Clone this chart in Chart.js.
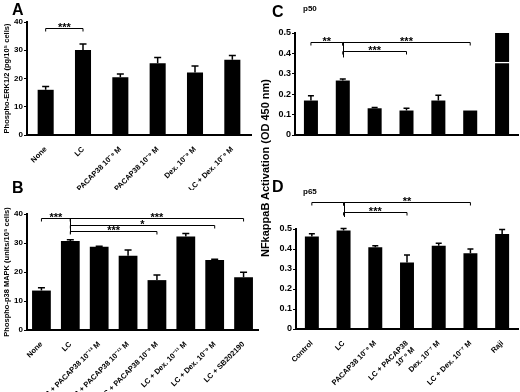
<!DOCTYPE html>
<html><head><meta charset="utf-8">
<script src="https://cdn.jsdelivr.net/npm/chart.js@4.4.1/dist/chart.umd.min.js"></script>
<style>
body{margin:0;background:#fff;}
#wrap{position:relative;width:520px;height:392px;overflow:hidden;background:#fff;font-family:'Liberation Sans',Arial,sans-serif;}
canvas{position:absolute;}
.lbl{position:absolute;font-weight:bold;line-height:1;color:#000;white-space:nowrap;}
</style></head><body>
<div id="wrap">
<canvas id="cA" width="260" height="190" style="left:0;top:0"></canvas>
<canvas id="cB" width="260" height="202" style="left:0;top:190px"></canvas>
<canvas id="cC" width="260" height="190" style="left:260px;top:0"></canvas>
<canvas id="cD" width="260" height="202" style="left:260px;top:190px"></canvas>
<div class="lbl" style="left:12px;top:2px;font-size:16px">A</div>
<div class="lbl" style="left:12px;top:180px;font-size:16px">B</div>
<div class="lbl" style="left:272px;top:4px;font-size:16px">C</div>
<div class="lbl" style="left:272px;top:179px;font-size:16px">D</div>
<div class="lbl" style="left:303px;top:5px;font-size:8px">p50</div>
<div class="lbl" style="left:303px;top:188px;font-size:8px">p65</div>
<div class="lbl" id="sharedTitle" style="left:265px;top:168px;font-size:11px;transform:translate(-50%,-50%) rotate(-90deg)"></div>
</div>
<script>
const FONT = "'Liberation Sans', Arial, sans-serif";
Chart.defaults.font.family = FONT;
Chart.defaults.color = '#000';

// ---------- Panel A: Phospho-ERK1/2 ----------
const labelsA = ['None', 'LC', 'PACAP38 10⁻⁹ M', 'LC + PACAP38 10⁻⁹ M', 'Dex. 10⁻⁹ M', 'LC + Dex. 10⁻⁹ M'];
const valuesA = [16.0, 30.1, 20.4, 25.4, 22.1, 26.6];
const errorsA = [1.2, 2.1, 1.2, 2.0, 2.3, 1.5];
const ticksA = [0, 10, 20, 30, 40];
const titleA = 'Phospho-ERK1/2 (pg/10⁵ cells)';
const bracketsA = [[0, 1, 37.8, '***']];
const stemsA = [];

// ---------- Panel B: Phospho-p38 MAPK ----------
const labelsB = ['None', 'LC', 'LC + PACAP38 10⁻¹³ M', 'LC + PACAP38 10⁻¹¹ M', 'LC + PACAP38 10⁻⁹ M', 'LC + Dex. 10⁻¹¹ M', 'LC + Dex. 10⁻⁹ M', 'LC + SB202190'];
const valuesB = [13.6, 30.7, 28.7, 25.6, 17.2, 32.2, 24.1, 18.2];
const errorsB = [1.0, 0.4, 0.2, 2.0, 1.8, 1.1, 0.3, 1.7];
const ticksB = [0, 10, 20, 30, 40];
const titleB = 'Phospho-p38 MAPK (units/10⁵ cells)';
const bracketsB = [[0, 1, 38.6, '***'], [1, 7, 38.6, '***'], [1, 6, 36.2, '*'], [1, 4, 34.1, '***']];
const stemsB = [[1, 38.6, 33.2]];

// ---------- Panels C/D: NFkappaB activation ----------
const labelsCD = ['Control', 'LC', 'PACAP38 10⁻⁹ M', ['LC + PACAP38', '10⁻⁹ M'], 'Dex. 10⁻⁷ M', 'LC + Dex. 10⁻⁷ M', 'Raji'];
const titleCD = 'NFkappaB Activation (OD 450 nm)';
const valuesC = [0.169, 0.267, 0.131, 0.120, 0.169, 0.120, 0.5];
const errorsC = [0.023, 0.008, 0.004, 0.011, 0.026, 0, 0];
const breakC = 0.355;   // axis-break mark drawn across the Raji bar
const ticksCD = [0, 0.1, 0.2, 0.3, 0.4, 0.5];
const bracketsC = [[0, 1, 0.456, '**'], [1, 5, 0.456, '***'], [1, 3, 0.41, '***']];
const stemsC = [[1, 0.456, 0.38]];

const valuesD = [0.463, 0.493, 0.409, 0.333, 0.416, 0.379, 0.475];
const errorsD = [0.013, 0.010, 0.007, 0.037, 0.013, 0.021, 0.022];
const bracketsD = [[0, 1, 0.635, ''], [1, 5, 0.635, '**'], [1, 3, 0.585, '***']];
const stemsD = [[1, 0.635, 0.56]];

document.getElementById('sharedTitle').textContent = titleCD;

function sigPlugin(cfg) {
  return {
    id: 'sig' + cfg.id,
    afterDatasetsDraw(chart) {
      const ctx = chart.ctx, xs = chart.scales.x, ys = chart.scales.y;
      ctx.save();
      ctx.strokeStyle = '#000'; ctx.fillStyle = '#000';
      // error bars (upper only)
      cfg.values.forEach((v, i) => {
        const e = cfg.errors[i];
        if (!e) return;
        const px = xs.getPixelForValue(i);
        const y0 = ys.getPixelForValue(v), y1 = ys.getPixelForValue(v + e);
        ctx.lineWidth = 1.5;
        ctx.beginPath();
        ctx.moveTo(px, y0); ctx.lineTo(px, y1);
        ctx.moveTo(px - cfg.cap, y1); ctx.lineTo(px + cfg.cap, y1);
        ctx.stroke();
      });
      // significance brackets
      ctx.lineWidth = 1;
      ctx.font = 'bold 11px ' + FONT;
      ctx.textAlign = 'center'; ctx.textBaseline = 'alphabetic';
      cfg.brackets.forEach(b => {
        const x0 = xs.getPixelForValue(b[0]), x1 = xs.getPixelForValue(b[1]);
        const py = Math.round(ys.getPixelForValue(b[2])) + 0.5;
        ctx.beginPath();
        ctx.moveTo(x0, py + 3); ctx.lineTo(x0, py); ctx.lineTo(x1, py); ctx.lineTo(x1, py + 3);
        ctx.stroke();
        if (b[3]) ctx.fillText(b[3], (x0 + x1) / 2, py + 2);
      });
      cfg.stems.forEach(s => {
        const px = Math.round(xs.getPixelForValue(s[0])) + 0.5;
        ctx.beginPath();
        ctx.moveTo(px, ys.getPixelForValue(s[1])); ctx.lineTo(px, ys.getPixelForValue(s[2]));
        ctx.stroke();
      });
      ctx.restore();
    }
  };
}

function makeChart(cfg) {
  return new Chart(document.getElementById(cfg.id), {
    type: 'bar',
    data: {
      labels: cfg.labels,
      datasets: cfg.datasets.map(d => Object.assign({
        backgroundColor: '#000', borderWidth: 0, categoryPercentage: 1, barPercentage: cfg.barPct
      }, d))
    },
    options: {
      responsive: false, animation: false, devicePixelRatio: 1,
      layout: { padding: { top: cfg.padTop, right: cfg.padRight, left: 0, bottom: 0 } },
      plugins: { legend: { display: false }, tooltip: { enabled: false } },
      scales: {
        x: {
          grid: { display: false },
          border: { display: true, width: 2, color: '#000' },
          ticks: { display: cfg.showX, autoSkip: false, minRotation: 45, maxRotation: 45, padding: 2,
                   font: { size: 7.5, weight: 'bold' }, color: '#000' },
          afterFit: s => { s.height = cfg.xHeight; }
        },
        y: {
          min: cfg.ticks[0], max: cfg.ticks[cfg.ticks.length - 1],
          grid: { display: true, drawOnChartArea: false, drawTicks: true, tickLength: 3, color: '#000', lineWidth: 1 },
          border: { display: true, width: 2, color: '#000' },
          ticks: { padding: 1, font: { size: cfg.tickSize, weight: 'bold' }, color: '#000' },
          afterBuildTicks: s => { s.ticks = cfg.ticks.map(v => ({ value: v })); },
          title: cfg.yTitle ? { display: true, text: cfg.yTitle, font: { size: 7.5, weight: 'bold' },
                                padding: { top: 2, bottom: 0 }, color: '#000' } : { display: false },
          afterFit: s => { s.width = cfg.yWidth; }
        }
      }
    },
    plugins: [sigPlugin(cfg)]
  });
}

makeChart({ id: 'cA', labels: labelsA, datasets: [{ data: valuesA }], values: valuesA, errors: errorsA,
  ticks: ticksA, yTitle: titleA, yWidth: 27, xHeight: 55, padTop: 22, padRight: 9, showX: true,
  barPct: 0.43, tickSize: 8, cap: 3.5, brackets: bracketsA, stems: stemsA });

makeChart({ id: 'cB', labels: labelsB, datasets: [{ data: valuesB }], values: valuesB, errors: errorsB,
  ticks: ticksB, yTitle: titleB, yWidth: 27, xHeight: 62, padTop: 24, padRight: 2, showX: true,
  barPct: 0.65, tickSize: 8, cap: 3.5, brackets: bracketsB, stems: stemsB });

const lowerC = valuesC.map((v, i) => i === valuesC.length - 1 ? [0, breakC - 0.003] : v);
const upperC = valuesC.map((v, i) => i === valuesC.length - 1 ? [breakC + 0.003, v] : null);
makeChart({ id: 'cC', labels: labelsCD, datasets: [{ data: lowerC }, { data: upperC, grouped: false }],
  values: valuesC, errors: errorsC,
  ticks: ticksCD, yTitle: null, yWidth: 35, xHeight: 55, padTop: 33, padRight: 2, showX: false,
  barPct: 0.44, tickSize: 9, cap: 3, brackets: bracketsC, stems: stemsC });

makeChart({ id: 'cD', labels: labelsCD, datasets: [{ data: valuesD }], values: valuesD, errors: errorsD,
  ticks: ticksCD, yTitle: null, yWidth: 36, xHeight: 63, padTop: 39, padRight: 2, showX: true,
  barPct: 0.44, tickSize: 9, cap: 3, brackets: bracketsD, stems: stemsD });
</script>
</body></html>
